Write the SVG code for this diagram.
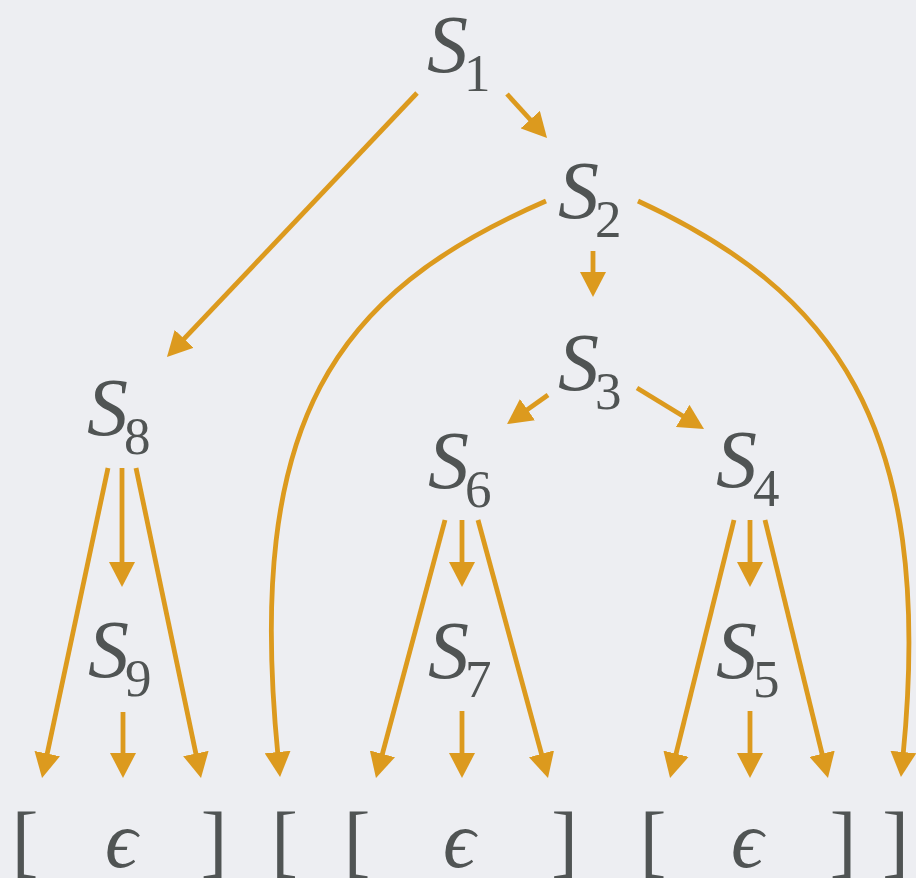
<svg xmlns="http://www.w3.org/2000/svg" width="916" height="878" viewBox="0 0 916 878">
<style>
text{font-family:"Times New Roman",Times,Tinos,"Nimbus Roman","Nimbus Roman No9 L",FreeSerif,"Liberation Serif","DejaVu Serif",serif;fill:#505454}
.s{font-style:italic;font-size:82px}
.sub{font-style:normal;font-size:53px}
.br{font-size:80px;text-anchor:middle}
.eps{font-style:italic;font-size:80px;text-anchor:middle}
.c{fill:none;stroke:#DC9A1E;stroke-width:4.8;marker-end:url(#ah)}
</style>
<defs>
<marker id="ah" markerUnits="userSpaceOnUse" markerWidth="25" markerHeight="26" viewBox="0 0 25 26" refX="4" refY="13" orient="auto">
<path d="M0,0 L25,13 L0,26 Z" fill="#DC9A1E"/>
</marker>
</defs>
<rect width="916" height="878" fill="#EDEEF2"/>
<g id="connectors">
<path class="c" d="M417,93 L181.4,341.7"/>
<path class="c" d="M507,94 L532.9,122.5"/>
<path class="c" d="M593,251 L593,276"/>
<path class="c" d="M546,201 C334,293 245,420 278,756"/>
<path class="c" d="M638,201 C830,290 936,420 903,756"/>
<path class="c" d="M548,395 L524.2,411.9"/>
<path class="c" d="M637,388 L686.1,418"/>
<path class="c" d="M108,468 L46.4,757.5"/>
<path class="c" d="M122,468 L122,566"/>
<path class="c" d="M136,468 L196.7,757.4"/>
<path class="c" d="M123,712 L123,757"/>
<path class="c" d="M445,520 L381.4,757.7"/>
<path class="c" d="M462,520 L462,566"/>
<path class="c" d="M478,520 L542.5,757.7"/>
<path class="c" d="M462,711 L462,757"/>
<path class="c" d="M734,520 L675.1,757.6"/>
<path class="c" d="M750,520 L750,566"/>
<path class="c" d="M765,520 L823,757.6"/>
<path class="c" d="M750,711 L750,757"/>
</g>
<g id="S1"><text x="427" y="72"><tspan class="s">S</tspan><tspan class="sub" dx="-4" dy="19">1</tspan></text></g>
<g id="S2"><text x="558" y="218"><tspan class="s">S</tspan><tspan class="sub" dx="-4" dy="19">2</tspan></text></g>
<g id="S3"><text x="558" y="390"><tspan class="s">S</tspan><tspan class="sub" dx="-4" dy="19">3</tspan></text></g>
<g id="S4"><text x="716" y="487"><tspan class="s">S</tspan><tspan class="sub" dx="-4" dy="19">4</tspan></text></g>
<g id="S5"><text x="716" y="678"><tspan class="s">S</tspan><tspan class="sub" dx="-4" dy="19">5</tspan></text></g>
<g id="S6"><text x="428" y="488"><tspan class="s">S</tspan><tspan class="sub" dx="-4" dy="19">6</tspan></text></g>
<g id="S7"><text x="428" y="678"><tspan class="s">S</tspan><tspan class="sub" dx="-4" dy="19">7</tspan></text></g>
<g id="S8"><text x="87" y="435"><tspan class="s">S</tspan><tspan class="sub" dx="-4" dy="19">8</tspan></text></g>
<g id="S9"><text x="88" y="677"><tspan class="s">S</tspan><tspan class="sub" dx="-4" dy="19">9</tspan></text></g>
<g id="bottom">
<text class="br" x="25" y="867">[</text>
<text class="eps" x="121" y="867">ϵ</text>
<text class="br" x="214" y="867">]</text>
<text class="br" x="284.5" y="867">[</text>
<text class="br" x="357" y="867">[</text>
<text class="eps" x="459" y="867">ϵ</text>
<text class="br" x="564.5" y="867">]</text>
<text class="br" x="653" y="867">[</text>
<text class="eps" x="747" y="867">ϵ</text>
<text class="br" x="843" y="867">]</text>
<text class="br" x="895.5" y="867">]</text>
</g>
</svg>
